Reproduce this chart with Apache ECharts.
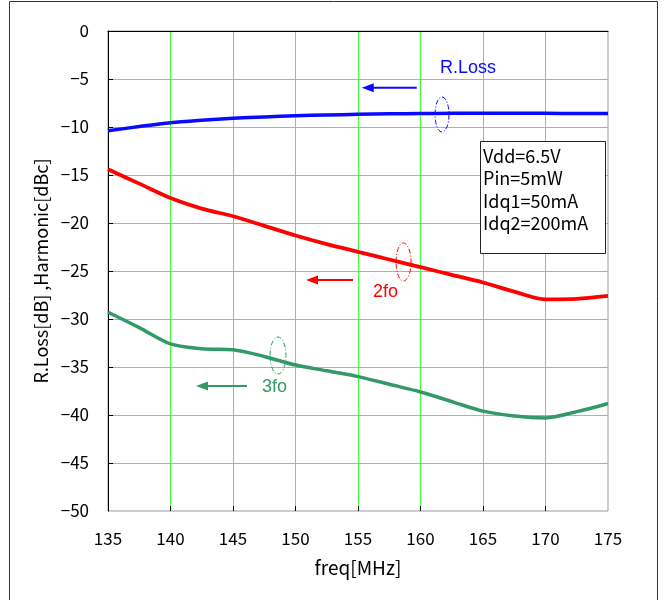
<!DOCTYPE html>
<html>
<head>
<meta charset="utf-8">
<script src="https://cdn.jsdelivr.net/npm/echarts@6/dist/echarts.min.js"></script>
<style>
  html, body { margin: 0; padding: 0; background: #fff; }
  #chart { width: 665px; height: 600px; }
</style>
</head>
<body>
<div id="chart"></div>
<script>
// Frequency sweep (MHz) and measured curves
const freq = [135, 137.5, 140, 142.5, 145, 147.5, 150, 152.5, 155, 157.5, 160, 162.5, 165, 167.5, 170, 172.5, 175];
const rLoss = [-10.4, -9.95, -9.55, -9.3, -9.1, -8.95, -8.83, -8.75, -8.68, -8.63, -8.6, -8.58, -8.58, -8.58, -8.58, -8.59, -8.6];
const harm2 = [-14.4, -15.9, -17.4, -18.5, -19.3, -20.3, -21.3, -22.2, -23.0, -23.8, -24.6, -25.4, -26.2, -27.15, -27.95, -27.9, -27.6];
const harm3 = [-29.3, -30.9, -32.6, -33.1, -33.2, -33.9, -34.8, -35.4, -36.0, -36.8, -37.6, -38.6, -39.6, -40.1, -40.3, -39.65, -38.8];

const xTicks = [135, 140, 145, 150, 155, 160, 165, 170, 175];
const yTicks = [0, -5, -10, -15, -20, -25, -30, -35, -40, -45, -50];
const conditions = ['Vdd=6.5V', 'Pin=5mW', 'Idq1=50mA', 'Idq2=200mA'];

const FONT = 'Noto Sans CJK JP';
const BLUE = '#0a0aff', RED = '#ff0000', GREEN = '#339966', GRID_GREEN = '#3cff3c';

const X_MIN = xTicks[0], X_MAX = xTicks[xTicks.length - 1];
const Y_MIN = yTicks[yTicks.length - 1], Y_MAX = yTicks[0];

const pairs = (xs, ys) => xs.map((x, i) => [x, ys[i]]);

const chart = echarts.init(document.getElementById('chart'), null, { renderer: 'canvas' });

chart.setOption({
  animation: false,
  backgroundColor: '#fff',
  textStyle: { fontFamily: FONT },
  grid: {
    left: 108, right: 57, top: 31, bottom: 89,
    show: true, borderColor: '#9a9a9a', borderWidth: 1
  },
  xAxis: {
    type: 'value', min: X_MIN, max: X_MAX, interval: 5,
    name: 'freq[MHz]', nameLocation: 'middle', nameGap: 47,
    nameTextStyle: { fontSize: 19, color: '#000', fontFamily: FONT },
    axisLine: { lineStyle: { color: '#000', width: 1 } },
    axisTick: { show: false },
    axisLabel: { margin: 19, fontSize: 17, color: '#000', fontFamily: FONT },
    splitLine: { show: false }
  },
  yAxis: {
    type: 'value', min: Y_MIN, max: Y_MAX, interval: 5,
    name: 'R.Loss[dB] ,Harmonic[dBc]', nameLocation: 'middle', nameGap: 58,
    nameTextStyle: { fontSize: 18, color: '#000', fontFamily: FONT },
    axisLine: { show: true, lineStyle: { color: '#000', width: 1 } },
    axisTick: { show: false },
    axisLabel: {
      margin: 19, fontSize: 17, color: '#000', fontFamily: FONT,
      formatter: v => String(v).replace('-', '\u2212')
    },
    splitLine: { show: false }
  },
  series: [
    { name: 'R.Loss', type: 'line', data: pairs(freq, rLoss), smooth: 0.3, symbol: 'none',
      lineStyle: { color: BLUE, width: 3.5 }, z: 5 },
    { name: '2fo', type: 'line', data: pairs(freq, harm2), smooth: 0.3, symbol: 'none',
      lineStyle: { color: RED, width: 3.8 }, z: 5 },
    { name: '3fo', type: 'line', data: pairs(freq, harm3), smooth: 0.3, symbol: 'none',
      lineStyle: { color: GREEN, width: 3.5 }, z: 5 }
  ]
});

// Pixel helper: data coordinates -> canvas position
const px = (x, y) => chart.convertToPixel({ gridIndex: 0 }, [x, y]);
const crisp = v => Math.floor(v) + 0.5;

// Grid lines and inward tick marks, snapped to whole pixels
const gridEls = [];
xTicks.slice(1, -1).forEach(x => {
  const a = px(x, Y_MAX), b = px(x, Y_MIN), cx = crisp(a[0]);
  gridEls.push({ type: 'line', shape: { x1: cx, y1: a[1], x2: cx, y2: b[1] },
    style: { stroke: GRID_GREEN, lineWidth: 1 }, z: 0, silent: true });
  gridEls.push({ type: 'line', shape: { x1: cx, y1: b[1], x2: cx, y2: b[1] - 5 },
    style: { stroke: '#000', lineWidth: 1 }, z: 0, silent: true });
});
yTicks.slice(1, -1).forEach(y => {
  const a = px(X_MIN, y), b = px(X_MAX, y), cy = crisp(a[1]);
  gridEls.push({ type: 'line', shape: { x1: a[0], y1: cy, x2: b[0], y2: cy },
    style: { stroke: GRID_GREEN, lineWidth: 1 }, z: 0, silent: true });
  gridEls.push({ type: 'line', shape: { x1: a[0], y1: cy, x2: a[0] + 5, y2: cy },
    style: { stroke: '#000', lineWidth: 1 }, z: 0, silent: true });
});

// Annotation helpers, placed in data coordinates
function arrow(x1, x2, y, color) {
  const a = px(x1, y), b = px(x2, y);
  return [
    { type: 'line', shape: { x1: a[0], y1: a[1], x2: b[0] + 8, y2: b[1] },
      style: { stroke: color, lineWidth: 2 }, z: 20 },
    { type: 'polygon', shape: { points: [[b[0], b[1]], [b[0] + 12, b[1] - 4.5], [b[0] + 12, b[1] + 4.5]] },
      style: { fill: color }, z: 20 }
  ];
}
function ellipse(x, y, rx, ry, color) {
  const c = px(x, y);
  return { type: 'ellipse', shape: { cx: c[0], cy: c[1], rx: rx, ry: ry },
    style: { fill: 'none', stroke: color, lineWidth: 1, lineDash: [5, 2, 1, 2] }, z: 20 };
}
function label(x, y, text, color) {
  const p = px(x, y);
  return { type: 'text', x: p[0], y: p[1],
    style: { text: text, fill: color, font: '18px "Liberation Sans", Arial, sans-serif', verticalAlign: 'middle' }, z: 20 };
}

const boxTL = px(164.76, -11.56), boxBR = px(174.76, -23.23);
chart.setOption({ graphic: [
  // outer frame
  { type: 'rect', shape: { x: 9.5, y: 1.5, width: 648, height: 620 },
    style: { fill: 'none', stroke: '#333', lineWidth: 1 }, z: 1 },
  ...gridEls,
  ...arrow(159.7, 155.3, -5.9, BLUE),
  label(161.56, -3.85, 'R.Loss', BLUE),
  ellipse(161.72, -8.7, 7, 17.5, BLUE),
  ...arrow(154.6, 150.84, -25.94, RED),
  label(156.2, -27.2, '2fo', RED),
  ellipse(158.64, -24.06, 7.5, 19, RED),
  ...arrow(146.12, 142.04, -36.98, GREEN),
  label(147.32, -37.08, '3fo', GREEN),
  ellipse(148.6, -33.8, 8, 18.5, GREEN),
  { type: 'rect', shape: { x: crisp(boxTL[0]), y: crisp(boxTL[1]),
      width: Math.round(boxBR[0] - boxTL[0]), height: Math.round(boxBR[1] - boxTL[1]) },
    style: { fill: '#fff', stroke: '#222', lineWidth: 1 }, z: 20 },
  ...conditions.map((t, i) => ({
    type: 'text', x: boxTL[0] + 3, y: boxTL[1] + 14 + i * 22.4,
    style: { text: t, fill: '#000', font: '18px "Noto Sans CJK JP", sans-serif', verticalAlign: 'middle' }, z: 21
  }))
] });
</script>
</body>
</html>
